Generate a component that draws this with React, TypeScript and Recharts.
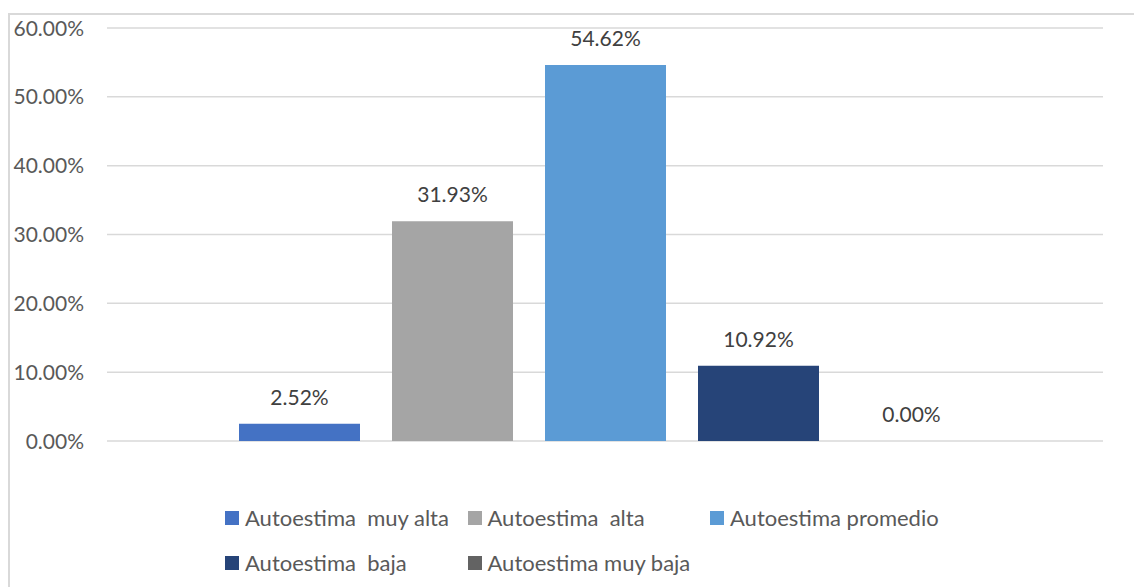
import { BarChart, Bar, XAxis, YAxis, CartesianGrid, LabelList } from 'recharts'

const seriesKeys = ['muyAlta', 'alta', 'promedio', 'baja', 'muyBaja']
const seriesNames = [
  'Autoestima  muy alta',
  'Autoestima  alta',
  'Autoestima promedio',
  'Autoestima  baja',
  'Autoestima muy baja',
]
const seriesValues = [0.0252, 0.3193, 0.5462, 0.1092, 0.0]
const seriesColors = ['#4472C4', '#A5A5A5', '#5B9BD5', '#264478', '#636363']
const yTicks = [0, 0.1, 0.2, 0.3, 0.4, 0.5, 0.6]

const FONT = 'Lato, "Open Sans", sans-serif'

const row: Record<string, number | string> = { name: '' }
seriesKeys.forEach((k, i) => {
  row[k] = seriesValues[i]
})
const chartData = [row]

const pct = (v: number) => `${(v * 100).toFixed(2)}%`

function YTick(props: any) {
  const { y, payload } = props
  return (
    <text x={84} y={y} dy="0.36em" textAnchor="end" fill="#595959" fontSize={21} fontFamily={FONT}>
      {pct(payload.value)}
    </text>
  )
}

function ValueLabel(props: any) {
  const { x, y, width, value } = props
  return (
    <text x={x + width / 2} y={y - 19} textAnchor="middle" fill="#404040" fontSize={21} fontFamily={FONT}>
      {pct(value)}
    </text>
  )
}

// légende façon Excel : colonnes égales sur 2 lignes, hors du graphique
function LegendGrid() {
  return (
    <div
      style={{
        position: 'absolute',
        left: 225,
        top: 495,
        display: 'grid',
        gridTemplateColumns: 'repeat(3, 242.5px)',
      }}
    >
      {seriesNames.map((n, i) => (
        <div key={n} style={{ display: 'flex', alignItems: 'center', height: 45 }}>
          <span style={{ width: 14, height: 14, background: seriesColors[i], marginRight: 6, flex: 'none' }} />
          <span style={{ fontFamily: FONT, fontSize: 22, color: '#595959', whiteSpace: 'pre', lineHeight: 1 }}>{n}</span>
        </div>
      ))}
    </div>
  )
}

export default function App() {
  return (
    <div style={{ position: 'fixed', left: 0, top: 0, width: 1134, height: 587, background: '#fff', overflow: 'hidden' }}>
      <div
        style={{
          position: 'absolute',
          left: 8,
          top: 13,
          width: 1200,
          height: 700,
          borderTop: '2px solid #d9d9d9',
          borderLeft: '2px solid #d9d9d9',
        }}
      />
      <BarChart
        width={1134}
        height={587}
        data={chartData}
        margin={{ top: 28, right: 31, left: 0, bottom: 146 }}
        barSize={121}
        barGap={32}
        style={{ position: 'absolute', left: 0, top: 0 }}
      >
        <CartesianGrid vertical={false} stroke="#d9d9d9" strokeWidth={1.5} />
        <XAxis dataKey="name" hide />
        <YAxis
          width={107}
          domain={[0, 0.6]}
          ticks={yTicks}
          tick={<YTick />}
          tickLine={false}
          axisLine={false}
        />
        {seriesKeys.map((k, i) => (
          <Bar
            key={k}
            dataKey={k}
            name={seriesNames[i]}
            fill={seriesColors[i]}
            minPointSize={0.01}
            isAnimationActive={false}
          >
            <LabelList dataKey={k} content={<ValueLabel />} />
          </Bar>
        ))}
      </BarChart>
      <LegendGrid />
    </div>
  )
}
